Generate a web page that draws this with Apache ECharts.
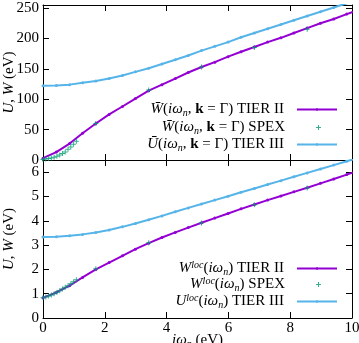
<!DOCTYPE html>
<html>
<head>
<meta charset="utf-8">
<script src="https://cdn.jsdelivr.net/npm/echarts@6/dist/echarts.min.js"></script>
<style>
html, body { margin: 0; padding: 0; background: #fff; }
#box { width: 359px; height: 343px; }
</style>
</head>
<body>
<div id="box"></div>
<script>
// frequency grid of the TIER II / TIER III curves (eV)
var freqs = [0, 0.43, 0.86, 1.28, 1.71, 2.14, 2.57, 2.99, 3.42, 3.85, 4.28, 4.70, 5.13,
    5.56, 5.99, 6.41, 6.84, 7.27, 7.70, 8.12, 8.55, 8.98, 9.41, 9.83, 10.26];

// top panel, k = Gamma
var wTier2Top = [3, 13, 27, 44, 60, 75, 88, 101, 114, 124, 134, 144, 153,
    161, 170, 178, 186, 194, 201, 209, 217, 225, 232, 240, 248];
var uTier3Top = [122, 122.5, 124, 127, 130, 134, 139, 145, 151, 158, 165, 172, 180,
    187, 194, 202, 209, 216, 223, 230, 237, 244, 251, 258, 265];

// bottom panel, local
var wTier2Loc = [0.83, 1.05, 1.33, 1.67, 2.0, 2.28, 2.56, 2.83, 3.08, 3.31, 3.52, 3.72, 3.92,
    4.11, 4.30, 4.49, 4.67, 4.85, 5.02, 5.19, 5.36, 5.54, 5.72, 5.90, 6.08];
var uTier3Loc = [3.33, 3.34, 3.38, 3.44, 3.52, 3.62, 3.75, 3.89, 4.04, 4.20, 4.37, 4.53, 4.69,
    4.85, 5.01, 5.17, 5.33, 5.49, 5.65, 5.81, 5.97, 6.13, 6.29, 6.45, 6.61];

// SPEX points
var spexFreqs = [0, 0.09, 0.18, 0.27, 0.36, 0.45, 0.54, 0.63, 0.72, 0.81, 0.90, 0.99, 1.08,
    1.71, 3.42, 5.13, 6.84, 8.55];
var spexTop = [1, 1.5, 2.3, 3.3, 4.6, 6.2, 8.2, 10.5, 13.2, 17.5, 21.5, 26, 31,
    60, 115, 153, 185, 215];
var spexLoc = [0.83, 0.86, 0.90, 0.95, 1.00, 1.06, 1.12, 1.19, 1.26, 1.33, 1.41, 1.49, 1.57,
    2.03, 3.10, 3.91, 4.66, 5.35];

function pairs(xv, yv) {
    return xv.map(function (x, i) { return [x, yv[i]]; });
}

var dom = document.getElementById('box');
var myChart = echarts.init(dom, null, { renderer: 'canvas' });

var FONT = '"Liberation Serif", "DejaVu Serif", serif';
var PURPLE = '#9400d3', GREEN = '#009e73', BLUE = '#56b4e9';
var PLUS = 'path://M2,0H3V2H5V3H3V5H2V3H0V2H2Z';

var rich = {
    it: { fontFamily: FONT, fontStyle: 'italic', fontSize: 15, color: '#000' },
    sub: { fontFamily: FONT, fontStyle: 'italic', fontSize: 10, color: '#000', padding: [7, 0, 0, 0] },
    sup: { fontFamily: FONT, fontStyle: 'italic', fontSize: 10, color: '#000', padding: [0, 0, 7, 0] },
    b: { fontFamily: FONT, fontWeight: 'bold', fontSize: 15, color: '#000' }
};

var labels = {
    w2top: '{it|W\u0304}({it|iω}{sub|n}, {b|k} = Γ) TIER II',
    spextop: '{it|W\u0304}({it|iω}{sub|n}, {b|k} = Γ) SPEX',
    u3top: '{it|U\u0304}({it|iω}{sub|n}, {b|k} = Γ) TIER III',
    w2loc: '{it|W}{sup|loc}({it|iω}{sub|n}) TIER II',
    spexloc: '{it|W}{sup|loc}({it|iω}{sub|n}) SPEX',
    u3loc: '{it|U}{sup|loc}({it|iω}{sub|n}) TIER III'
};

function xAxis(grid, pos, showLabel, name) {
    return {
        type: 'value', gridIndex: grid, position: pos, min: 0, max: 10, interval: 2,
        axisLine: { onZero: false, lineStyle: { color: '#000', width: 1 } },
        axisTick: { inside: true, length: 6, lineStyle: { color: '#000' } },
        axisLabel: { show: showLabel, margin: 3, color: '#000', fontFamily: FONT, fontSize: 15 },
        splitLine: { show: false },
        name: name || '', nameLocation: 'middle', nameGap: 14, nameMoveOverlap: false,
        nameTextStyle: { fontFamily: FONT, fontSize: 15, color: '#000', rich: rich }
    };
}

function yAxis(grid, pos, max, step, showLabel, name) {
    return {
        type: 'value', gridIndex: grid, position: pos, min: 0, max: max, interval: step,
        axisLine: { onZero: false, lineStyle: { color: '#000', width: 1 } },
        axisTick: { inside: true, length: 6, lineStyle: { color: '#000' } },
        axisLabel: {
            show: showLabel, margin: 4, color: '#000', fontFamily: FONT, fontSize: 15,
            formatter: function (v) { return (v % step === 0) ? String(v) : ''; }
        },
        splitLine: { show: false },
        name: name || '', nameLocation: 'middle', nameRotate: 90, nameGap: 26, nameMoveOverlap: false,
        nameTextStyle: { fontFamily: FONT, fontSize: 15, color: '#000', rich: rich }
    };
}

function legendRow(name, top, icon) {
    var item = { name: name };
    if (icon) { item.icon = icon; }
    return {
        data: [item], right: icon ? 38 : 21, top: top, padding: 0,
        align: 'right', itemWidth: icon ? 5 : 40, itemHeight: icon ? 5 : 3,
        selectedMode: false,
        formatter: function (n) { return labels[n]; },
        textStyle: {
            fontFamily: FONT, fontSize: 15, color: '#000', rich: rich,
            padding: [0, icon ? 26 : 8, 0, 0]
        }
    };
}

function lineSeries(name, xi, yi, data, color) {
    return {
        name: name, type: 'line', xAxisIndex: xi, yAxisIndex: yi, data: data,
        symbol: 'circle', symbolSize: 3, showAllSymbol: true,
        lineStyle: { color: color, width: 2 }, itemStyle: { color: color },
        clip: true, z: 2
    };
}

function spexSeries(name, xi, yi, data) {
    return {
        name: name, type: 'scatter', xAxisIndex: xi, yAxisIndex: yi, data: data,
        symbol: PLUS, symbolSize: 5, itemStyle: { color: GREEN }, z: 4
    };
}

option = {
    animation: false,
    backgroundColor: '#fff',
    textStyle: { fontFamily: FONT },
    grid: [
        { left: 43, right: 7, top: 5, height: 155, outerBoundsMode: 'none', containLabel: false },
        { left: 43, right: 7, top: 160, height: 158, outerBoundsMode: 'none', containLabel: false }
    ],
    xAxis: [
        xAxis(0, 'bottom', false),
        xAxis(0, 'top', false),
        xAxis(1, 'bottom', true, '{it|iω}{sub|n} (eV)'),
        xAxis(1, 'top', false)
    ],
    yAxis: [
        yAxis(0, 'left', 255, 50, true, '{it|U}, {it|W} (eV)'),
        yAxis(0, 'right', 255, 50, false),
        yAxis(1, 'left', 6.5, 1, true, '{it|U}, {it|W} (eV)'),
        yAxis(1, 'right', 6.5, 1, false)
    ],
    legend: [
        legendRow('w2top', 102),
        legendRow('spextop', 120, PLUS),
        legendRow('u3top', 137),
        legendRow('w2loc', 260),
        legendRow('spexloc', 276, PLUS),
        legendRow('u3loc', 293)
    ],
    series: [
        lineSeries('w2top', 0, 0, pairs(freqs, wTier2Top), PURPLE),
        lineSeries('u3top', 0, 0, pairs(freqs, uTier3Top), BLUE),
        spexSeries('spextop', 0, 0, pairs(spexFreqs, spexTop)),
        lineSeries('w2loc', 2, 2, pairs(freqs, wTier2Loc), PURPLE),
        lineSeries('u3loc', 2, 2, pairs(freqs, uTier3Loc), BLUE),
        spexSeries('spexloc', 2, 2, pairs(spexFreqs, spexLoc))
    ]
};

if (option && typeof option === 'object') {
    myChart.setOption(option, true);
}
</script>
</body>
</html>
